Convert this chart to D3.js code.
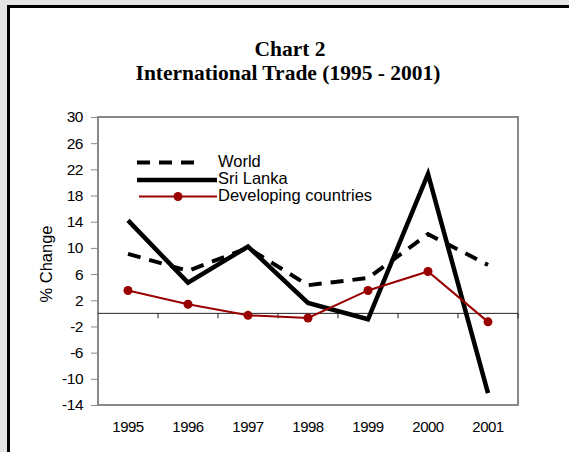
<!DOCTYPE html>
<html>
<head>
<meta charset="utf-8">
<script src="https://cdn.jsdelivr.net/npm/d3@7"></script>
<style>
  body { margin: 0; background: #e4e4e4; }
  svg { display: block; }
</style>
</head>
<body>
<div id="viz"></div>
<script>
const years = ['1995', '1996', '1997', '1998', '1999', '2000', '2001'];
const world = [9.1, 6.5, 10.0, 4.3, 5.4, 12.1, 7.4];
const sriLanka = [14.2, 4.7, 10.2, 1.6, -0.9, 21.3, -12.2];
const developing = [3.5, 1.4, -0.3, -0.7, 3.5, 6.4, -1.3];
const yTicks = [30, 26, 22, 18, 14, 10, 6, 2, -2, -6, -10, -14];

const width = 569;
const height = 452;

const svg = d3.select('#viz').append('svg')
  .attr('width', width)
  .attr('height', height);

// white page with black border
svg.append('rect')
  .attr('x', 8.5)
  .attr('y', 6.5)
  .attr('width', 600)
  .attr('height', 500)
  .attr('fill', '#fff')
  .attr('stroke', '#000')
  .attr('stroke-width', 3);

const titleFont = 'bold 21.5px "Liberation Serif", "Times New Roman", serif';

svg.append('text')
  .attr('x', 290)
  .attr('y', 56)
  .attr('text-anchor', 'middle')
  .style('font', titleFont)
  .text('Chart 2');

svg.append('text')
  .attr('x', 288)
  .attr('y', 80)
  .attr('text-anchor', 'middle')
  .style('font', titleFont)
  .text('International Trade (1995 - 2001)');

const xScale = d3.scaleBand()
  .domain(years)
  .range([98, 518]);

const yScale = d3.scaleLinear()
  .domain([-14, 30])
  .range([405, 117]);

const cx = d => xScale(d) + xScale.bandwidth() / 2;

// plot frame
svg.append('rect')
  .attr('x', 98)
  .attr('y', 117)
  .attr('width', 420)
  .attr('height', 288)
  .attr('fill', 'none')
  .attr('stroke', '#888')
  .attr('stroke-width', 2);

// y axis
const yAxis = d3.axisLeft(yScale)
  .tickValues(yTicks)
  .tickFormat(d => String(d))
  .tickSize(6)
  .tickPadding(8);

const gy = svg.append('g')
  .attr('transform', 'translate(97,0)')
  .call(yAxis);
gy.select('.domain').remove();
gy.selectAll('line').attr('stroke', '#888');
gy.selectAll('text')
  .attr('fill', '#000')
  .style('font', '15.5px "Liberation Sans", Arial, sans-serif')
  .style('letter-spacing', '-0.5px');

svg.append('text')
  .attr('transform', 'translate(52,264) rotate(-90)')
  .attr('text-anchor', 'middle')
  .style('font', '16.5px "Liberation Sans", Arial, sans-serif')
  .text('% Change');

// zero line with category ticks
svg.append('line')
  .attr('x1', 98)
  .attr('x2', 518)
  .attr('y1', yScale(0))
  .attr('y2', yScale(0))
  .attr('stroke', '#222')
  .attr('stroke-width', 1);

svg.selectAll('line.cat-tick')
  .data(years)
  .enter()
  .append('line')
  .attr('class', 'cat-tick')
  .attr('x1', d => xScale(d) + xScale.bandwidth())
  .attr('x2', d => xScale(d) + xScale.bandwidth())
  .attr('y1', yScale(0))
  .attr('y2', yScale(0) + 5)
  .attr('stroke', '#222');

// x labels
svg.selectAll('text.year')
  .data(years)
  .enter()
  .append('text')
  .attr('class', 'year')
  .attr('x', d => cx(d))
  .attr('y', 432)
  .attr('text-anchor', 'middle')
  .style('font', '15px "Liberation Sans", Arial, sans-serif')
  .style('letter-spacing', '-0.5px')
  .text(d => d);

const line = d3.line()
  .x((d, i) => cx(years[i]))
  .y(d => yScale(d));

svg.append('path')
  .datum(world)
  .attr('fill', 'none')
  .attr('stroke', '#000')
  .attr('stroke-width', 4)
  .attr('stroke-dasharray', '13,9')
  .attr('d', line);

svg.append('path')
  .datum(sriLanka)
  .attr('fill', 'none')
  .attr('stroke', '#000')
  .attr('stroke-width', 4.5)
  .attr('d', line);

svg.append('path')
  .datum(developing)
  .attr('fill', 'none')
  .attr('stroke', '#990000')
  .attr('stroke-width', 2)
  .attr('d', line);

svg.selectAll('circle.dev')
  .data(developing)
  .enter()
  .append('circle')
  .attr('class', 'dev')
  .attr('cx', (d, i) => cx(years[i]))
  .attr('cy', d => yScale(d))
  .attr('r', 4.5)
  .attr('fill', '#990000');

// legend
const legend = svg.append('g');
const legendFont = '16.5px "Liberation Sans", Arial, sans-serif';

legend.append('line')
  .attr('x1', 137).attr('x2', 203)
  .attr('y1', 162.5).attr('y2', 162.5)
  .attr('stroke', '#000')
  .attr('stroke-width', 4)
  .attr('stroke-dasharray', '13,9');
legend.append('line')
  .attr('x1', 137).attr('x2', 217)
  .attr('y1', 180).attr('y2', 180)
  .attr('stroke', '#000')
  .attr('stroke-width', 4.5);
legend.append('line')
  .attr('x1', 139).attr('x2', 217)
  .attr('y1', 196.5).attr('y2', 196.5)
  .attr('stroke', '#990000')
  .attr('stroke-width', 2);
legend.append('circle')
  .attr('cx', 178).attr('cy', 196.5)
  .attr('r', 4.5)
  .attr('fill', '#990000');

[['World', 166.5], ['Sri Lanka', 183.5], ['Developing countries', 200.5]].forEach(([t, y]) => {
  legend.append('text')
    .attr('x', 218)
    .attr('y', y)
    .style('font', legendFont)
    .text(t);
});
</script>
</body>
</html>
